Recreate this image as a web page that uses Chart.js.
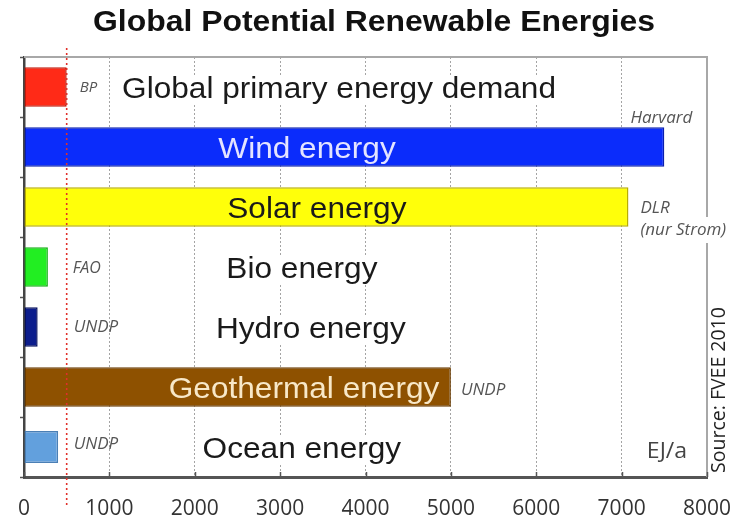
<!DOCTYPE html>
<html>
<head>
<meta charset="utf-8">
<script src="https://cdn.jsdelivr.net/npm/chart.js@4/dist/chart.umd.min.js"></script>
<style>
  html, body { margin: 0; padding: 0; background: #fff; }
  #wrap { width: 744px; height: 519px; }
</style>
</head>
<body>
<div id="wrap"><canvas id="c"></canvas></div>
<script>
// ---- data (EJ per year) ----
const categories = [
  'Global primary energy demand',
  'Wind energy',
  'Solar energy',
  'Bio energy',
  'Hydro energy',
  'Geothermal energy',
  'Ocean energy'
];
const potentials = [500, 7500, 7080, 280, 160, 5000, 400];
const sources = ['BP', 'Harvard', 'DLR|(nur Strom)', 'FAO', 'UNDP', 'UNDP', 'UNDP'];
const xTicks = [0, 1000, 2000, 3000, 4000, 5000, 6000, 7000, 8000];
const titleText = 'Global Potential Renewable Energies';
const unitText = 'EJ/a';
const creditText = 'Source: FVEE 2010';

// ---- styling ----
const barFill   = ['#ff2a17', '#0b2cfb', '#ffff0a', '#22ee22', '#0c1d8c', '#8e5100', '#62a0dd'];
const barEdge   = ['#c41a0c', '#0a1fb0', '#b8ae00', '#16b016', '#06105e', '#6a3c00', '#4a7fb5'];
const labelInk  = ['#1a1a1a', '#e4e4ff', '#1a1a1a', '#1a1a1a', '#1a1a1a', '#f8e8c8', '#1a1a1a'];
// horizontal centre of each row caption, in axis units
const captionAt = [3690, 3315, 3430, 3255, 3360, 3280, 3255];
// where each source note sits: anchored to the demand line or to the bar end
const noteLayout = [
  { from: 'demand', dx: 13, dy: 1,   size: 15, align: 'left' },
  { from: 'bar',    dx: 28, dy: -29, size: 17, align: 'right' },
  { from: 'bar',    dx: 12, dy: 1,   size: 17, align: 'left' },
  { from: 'demand', dx: 6,  dy: 1,   size: 16, align: 'left' },
  { from: 'demand', dx: 7,  dy: 0,   size: 17, align: 'left' },
  { from: 'bar',    dx: 10, dy: 3,   size: 17, align: 'left' },
  { from: 'demand', dx: 7,  dy: -3,  size: 17, align: 'left' }
];

function drawStretched(ctx, text, x, y, font, color, stretch, align, bg) {
  ctx.save();
  ctx.font = font;
  ctx.textBaseline = 'middle';
  const w = ctx.measureText(text).width * stretch;
  let left = x;
  if (align === 'center') left = x - w / 2;
  else if (align === 'right') left = x - w;
  if (bg) {
    ctx.fillStyle = bg;
    ctx.fillRect(left - 3, y - 13, w + 6, 26);
  }
  ctx.translate(left, y);
  ctx.scale(stretch, 1);
  ctx.textAlign = 'left';
  ctx.fillStyle = color;
  ctx.fillText(text, 0, 0);
  ctx.restore();
}

const decorations = {
  id: 'decorations',
  beforeDatasetsDraw(chart) {
    const { ctx, chartArea: a, scales: { x } } = chart;
    ctx.save();
    // frame: top and right edges
    ctx.strokeStyle = '#a8a8a8';
    ctx.lineWidth = 2;
    ctx.beginPath();
    ctx.moveTo(a.left, a.top);
    ctx.lineTo(a.right, a.top);
    ctx.lineTo(a.right, a.bottom);
    ctx.stroke();
    // short inward ticks on the value axis
    ctx.strokeStyle = '#555';
    ctx.lineWidth = 1.5;
    xTicks.forEach(v => {
      const px = Math.round(x.getPixelForValue(v)) + 0.5;
      ctx.beginPath();
      ctx.moveTo(px, a.bottom);
      ctx.lineTo(px, a.bottom - 5);
      ctx.stroke();
    });
    ctx.restore();
  },
  afterDatasetsDraw(chart) {
    const { ctx, chartArea: a, scales: { x, y } } = chart;
    const demandPx = x.getPixelForValue(potentials[0]);

    // title
    drawStretched(ctx, titleText, 374, 23, 'bold 29px "Liberation Sans", Arial, sans-serif',
      '#111', 1.10, 'center');

    // row captions
    categories.forEach((name, i) => {
      const onBar = captionAt[i] < potentials[i];
      drawStretched(ctx, name, x.getPixelForValue(captionAt[i]), y.getPixelForValue(i) + 3,
        '29px "Liberation Sans", Arial, sans-serif', labelInk[i], 1.09, 'center',
        onBar ? null : '#fff');
    });

    // source notes
    sources.forEach((src, i) => {
      const L = noteLayout[i];
      const base = L.from === 'demand' ? demandPx : x.getPixelForValue(potentials[i]);
      const rowY = y.getPixelForValue(i) + L.dy;
      src.split('|').forEach((line, k) => {
        drawStretched(ctx, line, base + L.dx, rowY + k * 22,
          'italic ' + L.size + 'px "Open Sans", sans-serif', '#555', 1, L.align, k > 0 ? '#fff' : null);
      });
    });

    // demand reference line
    ctx.save();
    ctx.strokeStyle = '#e0302a';
    ctx.lineWidth = 1.6;
    ctx.setLineDash([2, 3]);
    ctx.beginPath();
    ctx.moveTo(demandPx, a.top - 9);
    ctx.lineTo(demandPx, a.bottom + 28);
    ctx.stroke();
    ctx.restore();

    // unit
    drawStretched(ctx, unitText, 667, y.getPixelForValue(6) + 5, '22px "Open Sans", sans-serif',
      '#444', 1.05, 'center');

    // vertical source credit
    ctx.save();
    ctx.translate(a.right + 12, (a.top + a.bottom) / 2 + 123);
    ctx.rotate(-Math.PI / 2);
    ctx.font = '19.5px "Open Sans", sans-serif';
    ctx.fillStyle = '#222';
    ctx.textAlign = 'center';
    ctx.textBaseline = 'middle';
    ctx.fillText(creditText, 0, 0);
    ctx.restore();
  }
};

const mainData = potentials.map((v, i) => (i === categories.length - 1 ? null : v));
const oceanData = potentials.map((v, i) => (i === categories.length - 1 ? v : null));

new Chart(document.getElementById('c'), {
  type: 'bar',
  data: {
    labels: categories,
    datasets: [
      {
        data: mainData,
        backgroundColor: barFill,
        borderColor: barEdge,
        borderWidth: 1.5,
        borderSkipped: false,
        barPercentage: 0.66,
        categoryPercentage: 1,
        grouped: false
      },
      {
        data: oceanData,
        backgroundColor: barFill,
        borderColor: barEdge,
        borderWidth: 1.5,
        borderSkipped: false,
        barPercentage: 0.53,
        categoryPercentage: 1,
        grouped: false
      }
    ]
  },
  options: {
    indexAxis: 'y',
    responsive: true,
    maintainAspectRatio: false,
    animation: false,
    devicePixelRatio: 1,
    layout: { padding: { top: 57, left: 24, right: 37, bottom: 0 } },
    plugins: {
      legend: { display: false },
      tooltip: { enabled: false },
      title: { display: false }
    },
    scales: {
      x: {
        min: 0,
        max: 8000,
        afterBuildTicks(scale) { scale.ticks = xTicks.map(v => ({ value: v })); },
        afterFit(scale) {
          scale.height = 42;
          scale.paddingLeft = 0;
          scale.paddingRight = 0;
        },
        ticks: {
          padding: 19,
          color: '#333',
          font: { family: '"Open Sans", sans-serif', size: 21 },
          maxRotation: 0,
          callback: v => String(v)
        },
        grid: {
          drawTicks: false,
          color: ctx => (ctx.tick && ctx.tick.value > 0 && ctx.tick.value < 8000) ? '#a4a4a4' : 'rgba(0,0,0,0)',
          lineWidth: 1
        },
        border: { display: true, color: '#555', width: 3, dash: [2, 2] }
      },
      y: {
        afterFit(scale) { scale.width = 0; },
        ticks: { display: false },
        grid: {
          offset: true,
          drawOnChartArea: false,
          drawTicks: true,
          tickLength: 4,
          tickColor: '#555',
          tickWidth: 1.5
        },
        border: { display: true, color: '#444', width: 2.5 }
      }
    }
  },
  plugins: [decorations]
});
</script>
</body>
</html>
